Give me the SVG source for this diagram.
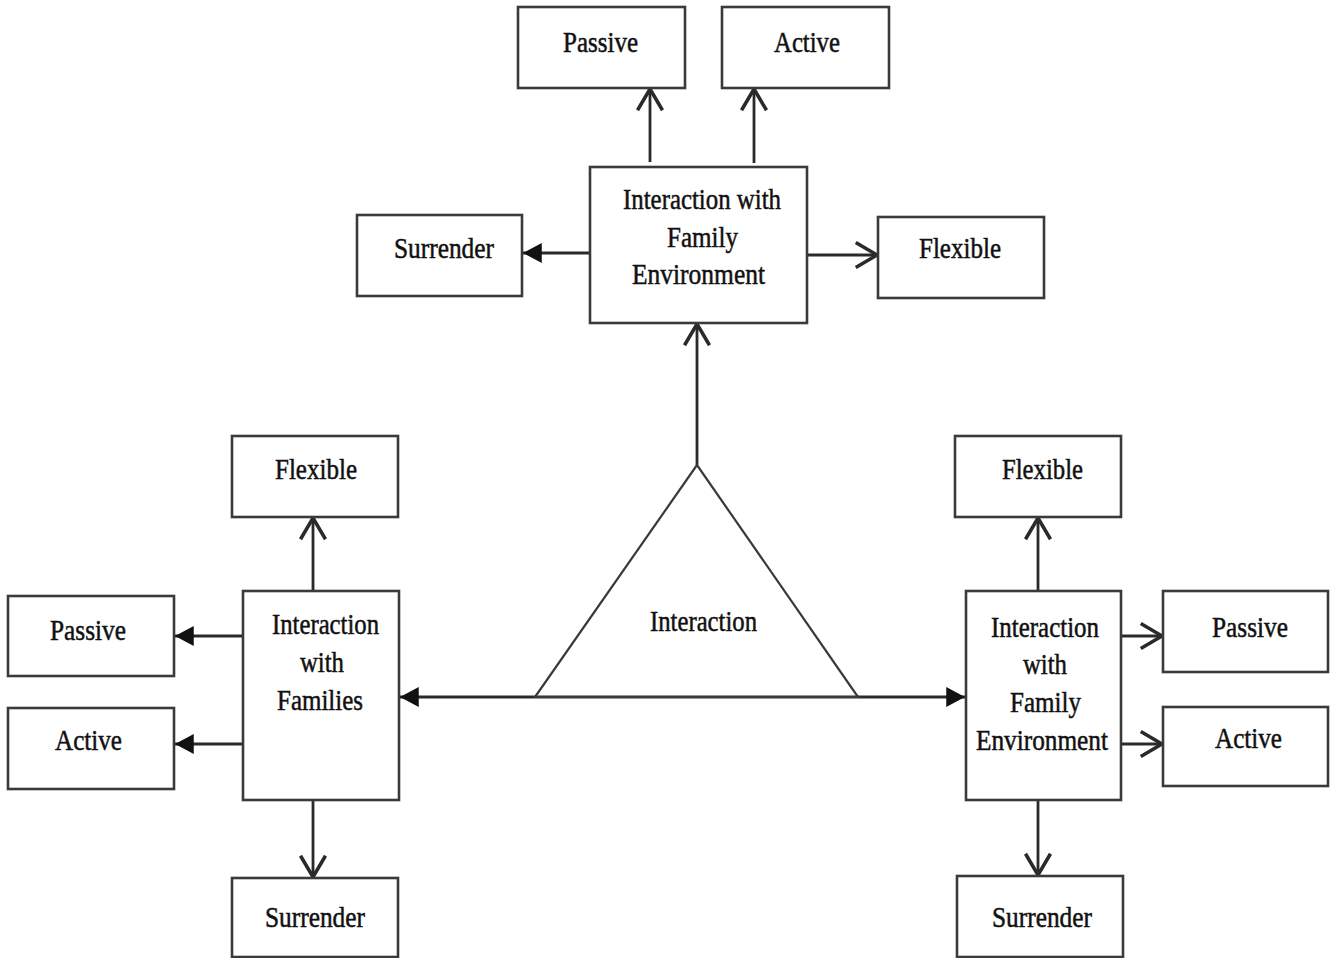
<svg xmlns="http://www.w3.org/2000/svg" width="1338" height="958" viewBox="0 0 1338 958">
<style>
.box{fill:#fff;stroke:#3a3a3a;stroke-width:2.6}
.t{font-family:"Liberation Serif","Times New Roman",serif;font-size:29px;fill:#111;stroke:#111;stroke-width:0.5;text-anchor:middle}
.c{fill:none;stroke:#2a2a2a;stroke-width:2.8}
</style>
<defs>
<marker id="open" markerUnits="userSpaceOnUse" markerWidth="30" markerHeight="30" viewBox="-20 -12 24 24" refX="0" refY="0" orient="auto">
<path d="M-17,-10 L0,0 L-17,10" fill="none" stroke="#2a2a2a" stroke-width="2.8"/>
</marker>
<marker id="fill" markerUnits="userSpaceOnUse" markerWidth="30" markerHeight="30" viewBox="-20 -12 24 24" refX="0" refY="0" orient="auto">
<path d="M-15,-8 L0,0 L-15,8 Z" fill="#111" stroke="none"/>
</marker>
</defs>
<rect width="1338" height="958" fill="#fff"/>
<g id="connectors">
<line class="c" x1="650" y1="162" x2="650" y2="89" marker-end="url(#open)"/>
<line class="c" x1="754" y1="163" x2="754" y2="89" marker-end="url(#open)"/>
<line class="c" x1="590" y1="253" x2="523" y2="253" marker-end="url(#fill)"/>
<line class="c" x1="807" y1="255" x2="877" y2="255" marker-end="url(#open)"/>
<line class="c" x1="697" y1="465" x2="697" y2="324" marker-end="url(#open)"/>
<line class="c" x1="680" y1="697" x2="400" y2="697" marker-end="url(#fill)"/>
<line class="c" x1="680" y1="697" x2="965" y2="697" marker-end="url(#fill)"/>
<line class="c" x1="313" y1="591" x2="313" y2="518" marker-end="url(#open)"/>
<line class="c" x1="243" y1="636" x2="175" y2="636" marker-end="url(#fill)"/>
<line class="c" x1="243" y1="744" x2="175" y2="744" marker-end="url(#fill)"/>
<line class="c" x1="313" y1="800" x2="313" y2="877" marker-end="url(#open)"/>
<line class="c" x1="1038" y1="591" x2="1038" y2="518" marker-end="url(#open)"/>
<line class="c" x1="1121" y1="636" x2="1162" y2="636" marker-end="url(#open)"/>
<line class="c" x1="1121" y1="744" x2="1162" y2="744" marker-end="url(#open)"/>
<line class="c" x1="1038" y1="800" x2="1038" y2="875" marker-end="url(#open)"/>
</g>
<g id="triangle">
<path d="M697,465 L535,697 L858,697 Z" fill="none" stroke="#3a3a3a" stroke-width="2.2"/>
<text class="t" x="703.5" y="631" textLength="107" lengthAdjust="spacingAndGlyphs">Interaction</text>
</g>
<g id="top-passive"><rect class="box" x="518" y="7" width="167" height="81"/><text class="t" x="600.5" y="52" textLength="75" lengthAdjust="spacingAndGlyphs">Passive</text></g>
<g id="top-active"><rect class="box" x="722" y="7" width="167" height="81"/><text class="t" x="807" y="52" textLength="66" lengthAdjust="spacingAndGlyphs">Active</text></g>
<g id="top-main"><rect class="box" x="590" y="167" width="217" height="156"/>
<text class="t" x="702" y="209" textLength="158" lengthAdjust="spacingAndGlyphs">Interaction with</text>
<text class="t" x="702.5" y="247" textLength="71" lengthAdjust="spacingAndGlyphs">Family</text>
<text class="t" x="698.5" y="284" textLength="133" lengthAdjust="spacingAndGlyphs">Environment</text></g>
<g id="top-surrender"><rect class="box" x="357" y="215" width="165" height="81"/><text class="t" x="444" y="258" textLength="100" lengthAdjust="spacingAndGlyphs">Surrender</text></g>
<g id="top-flexible"><rect class="box" x="878" y="217" width="166" height="81"/><text class="t" x="960" y="258" textLength="82" lengthAdjust="spacingAndGlyphs">Flexible</text></g>
<g id="left-flexible"><rect class="box" x="232" y="436" width="166" height="81"/><text class="t" x="316" y="479" textLength="82" lengthAdjust="spacingAndGlyphs">Flexible</text></g>
<g id="left-main"><rect class="box" x="243" y="591" width="156" height="209"/>
<text class="t" x="325.5" y="634" textLength="107" lengthAdjust="spacingAndGlyphs">Interaction</text>
<text class="t" x="322" y="672" textLength="44" lengthAdjust="spacingAndGlyphs">with</text>
<text class="t" x="320" y="709.5" textLength="86" lengthAdjust="spacingAndGlyphs">Families</text></g>
<g id="left-passive"><rect class="box" x="8" y="596" width="166" height="80"/><text class="t" x="88" y="640" textLength="76" lengthAdjust="spacingAndGlyphs">Passive</text></g>
<g id="left-active"><rect class="box" x="8" y="708" width="166" height="81"/><text class="t" x="88.5" y="749.5" textLength="67" lengthAdjust="spacingAndGlyphs">Active</text></g>
<g id="left-surrender"><rect class="box" x="232" y="878" width="166" height="79"/><text class="t" x="315" y="926.5" textLength="100" lengthAdjust="spacingAndGlyphs">Surrender</text></g>
<g id="right-flexible"><rect class="box" x="955" y="436" width="166" height="81"/><text class="t" x="1042.5" y="479" textLength="81" lengthAdjust="spacingAndGlyphs">Flexible</text></g>
<g id="right-main"><rect class="box" x="966" y="591" width="155" height="209"/>
<text class="t" x="1045" y="637" textLength="108" lengthAdjust="spacingAndGlyphs">Interaction</text>
<text class="t" x="1045" y="673.5" textLength="44" lengthAdjust="spacingAndGlyphs">with</text>
<text class="t" x="1045.5" y="712" textLength="71" lengthAdjust="spacingAndGlyphs">Family</text>
<text class="t" x="1042" y="750" textLength="132" lengthAdjust="spacingAndGlyphs">Environment</text></g>
<g id="right-passive"><rect class="box" x="1163" y="591" width="165" height="81"/><text class="t" x="1250" y="637" textLength="76" lengthAdjust="spacingAndGlyphs">Passive</text></g>
<g id="right-active"><rect class="box" x="1163" y="707" width="165" height="79"/><text class="t" x="1248.5" y="748" textLength="67" lengthAdjust="spacingAndGlyphs">Active</text></g>
<g id="right-surrender"><rect class="box" x="957" y="876" width="166" height="81"/><text class="t" x="1042" y="927" textLength="100" lengthAdjust="spacingAndGlyphs">Surrender</text></g>
</svg>
